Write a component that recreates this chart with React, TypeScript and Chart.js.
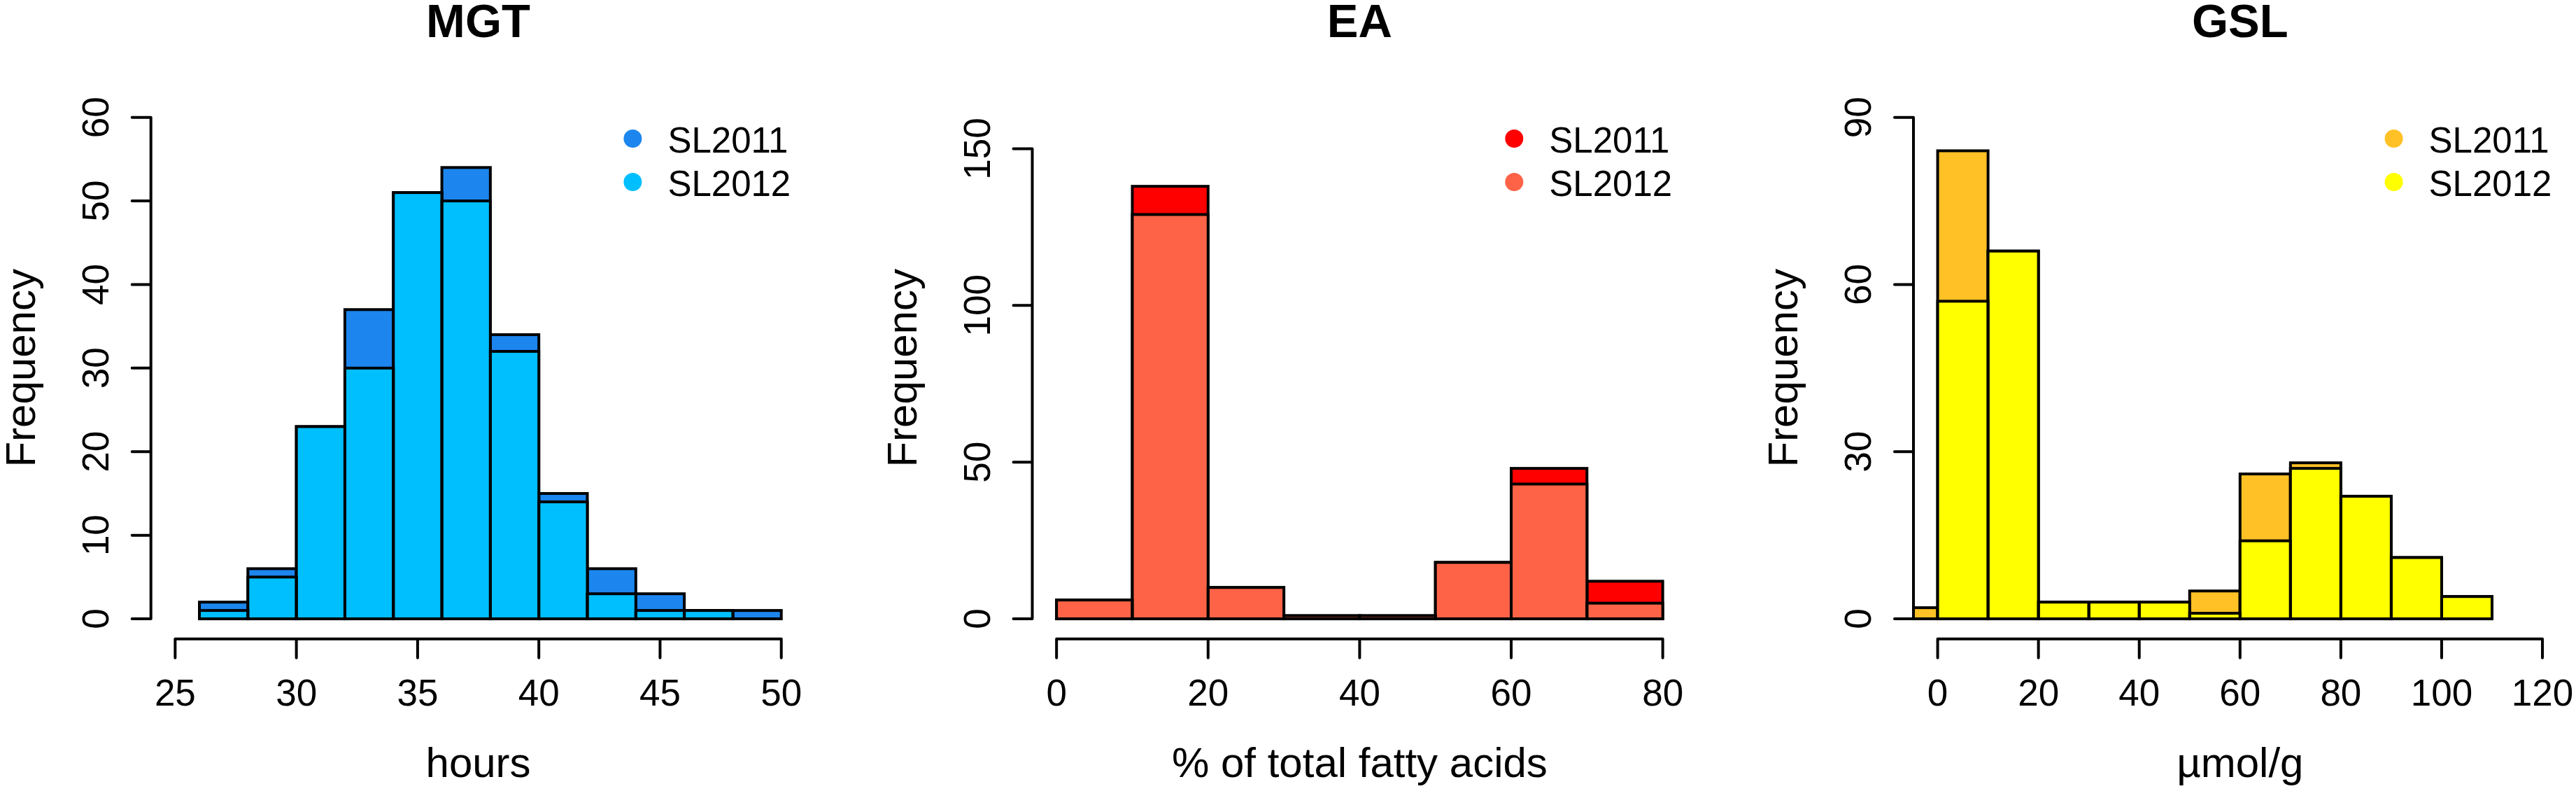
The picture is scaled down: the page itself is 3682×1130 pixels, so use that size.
import { useEffect, useRef } from "react";
import { Chart, registerables } from "chart.js";

Chart.register(...registerables);

// ---- data ----
const seriesNames = ["SL2011", "SL2012"];

const mgtBreaks = [26, 28, 30, 32, 34, 36, 38, 40, 42, 44, 46, 48, 50];
const mgtSL2011 = [2, 6, 23, 37, 51, 54, 34, 15, 6, 3, 1, 1];
const mgtSL2012 = [1, 5, 23, 30, 51, 50, 32, 14, 3, 1, 1, 0];
const mgtXTicks = [25, 30, 35, 40, 45, 50];
const mgtYTicks = [0, 10, 20, 30, 40, 50, 60];

const eaBreaks = [0, 10, 20, 30, 40, 50, 60, 70, 80];
const eaSL2011 = [6, 138, 10, 1, 1, 18, 48, 12];
const eaSL2012 = [6, 129, 10, 1, 1, 18, 43, 5];
const eaXTicks = [0, 20, 40, 60, 80];
const eaYTicks = [0, 50, 100, 150];

const gslBreaks = [-10, 0, 10, 20, 30, 40, 50, 60, 70, 80, 90, 100, 110];
const gslSL2011 = [2, 84, 66, 3, 3, 3, 5, 26, 28, 22, 11, 4];
const gslSL2012 = [0, 57, 66, 3, 3, 3, 1, 14, 27, 22, 11, 4];
const gslXTicks = [0, 20, 40, 60, 80, 100, 120];
const gslYTicks = [0, 30, 60, 90];

const FONT = '"Liberation Sans", Arial, Helvetica, sans-serif';
const PAGE_H = 1130;
const TOP_PAD = 139;
const BOTTOM_PAD = 217.3;
const LW = 4;

interface PanelSpec {
    title: string;
    xLabel: string;
    breaks: number[];
    back: number[];
    front: number[];
    xTicks: number[];
    yTicks: number[];
    xlim: [number, number];
    ylim: [number, number];
    colors: [string, string];
    left: number;
    width: number;
    padLeft: number;
    padRight: number;
}

const panels: PanelSpec[] = [
    {
        title: "MGT",
        xLabel: "hours",
        breaks: mgtBreaks,
        back: mgtSL2011,
        front: mgtSL2012,
        xTicks: mgtXTicks,
        yTicks: mgtYTicks,
        xlim: [25, 50],
        ylim: [0, 60],
        colors: ["#1C86EE", "#00BFFF"],
        left: 0,
        width: 1227,
        padLeft: 215.7,
        padRight: 75.6,
    },
    {
        title: "EA",
        xLabel: "% of total fatty acids",
        breaks: eaBreaks,
        back: eaSL2011,
        front: eaSL2012,
        xTicks: eaXTicks,
        yTicks: eaYTicks,
        xlim: [0, 80],
        ylim: [0, 160],
        colors: ["#FF0000", "#FF6347"],
        left: 1227,
        width: 1228,
        padLeft: 248.5,
        padRight: 43.7,
    },
    {
        title: "GSL",
        xLabel: "µmol/g",
        breaks: gslBreaks,
        back: gslSL2011,
        front: gslSL2012,
        xTicks: gslXTicks,
        yTicks: gslYTicks,
        xlim: [0, 120],
        ylim: [0, 90],
        colors: ["#FFC125", "#FFFF00"],
        left: 2455,
        width: 1227,
        padLeft: 280,
        padRight: 13.4,
    },
];

// R-style extended limits (4% each side)
const extend = (lim: [number, number]) => {
    const d = (lim[1] - lim[0]) * 0.04;
    return { min: lim[0] - d, max: lim[1] + d };
};

function HistPanel({ spec }: { spec: PanelSpec }) {
    const canvasRef = useRef<HTMLCanvasElement>(null);
    const chartRef = useRef<Chart | null>(null);

    useEffect(() => {
        if (!canvasRef.current) return;
        if (chartRef.current) chartRef.current.destroy();

        const centers = spec.breaks.slice(0, -1).map((b, i) => (b + spec.breaks[i + 1]) / 2);
        const xr = extend(spec.xlim);
        const yr = extend(spec.ylim);

        // bar outlines drawn centred on the edges, like R's rect()
        const outlinePlugin = {
            id: "outline",
            afterDatasetDraw(chart: any, args: any) {
                const { ctx, chartArea } = chart;
                ctx.save();
                ctx.beginPath();
                ctx.rect(chartArea.left, chartArea.top, chartArea.right - chartArea.left, chartArea.bottom - chartArea.top);
                ctx.clip();
                ctx.strokeStyle = "#000";
                ctx.lineWidth = LW;
                ctx.lineJoin = "miter";
                args.meta.data.forEach((el: any) => {
                    const { x, y, base, width } = el.getProps(["x", "y", "base", "width"], true);
                    ctx.strokeRect(x - width / 2, Math.min(y, base), width, Math.abs(base - y));
                });
                ctx.restore();
            },
        };

        const axesPlugin = {
            id: "rAxes",
            afterDraw(chart: any) {
                const { ctx, chartArea, scales } = chart;
                const xs = scales.x;
                const ys = scales.y;
                const cx = (chartArea.left + chartArea.right) / 2;
                const cy = (chartArea.top + chartArea.bottom) / 2;
                ctx.save();
                ctx.strokeStyle = "#000";
                ctx.fillStyle = "#000";
                ctx.lineWidth = LW;
                ctx.lineCap = "round";

                // x axis
                const xb = chartArea.bottom;
                ctx.beginPath();
                ctx.moveTo(xs.getPixelForValue(spec.xTicks[0]), xb);
                ctx.lineTo(xs.getPixelForValue(spec.xTicks[spec.xTicks.length - 1]), xb);
                spec.xTicks.forEach((t) => {
                    const px = xs.getPixelForValue(t);
                    ctx.moveTo(px, xb);
                    ctx.lineTo(px, xb + 27);
                });
                ctx.stroke();
                ctx.font = `53px ${FONT}`;
                ctx.textAlign = "center";
                ctx.textBaseline = "alphabetic";
                spec.xTicks.forEach((t) => {
                    ctx.fillText(String(t), xs.getPixelForValue(t), xb + 95);
                });

                // y axis
                const yl = chartArea.left;
                ctx.beginPath();
                ctx.moveTo(yl, ys.getPixelForValue(spec.yTicks[0]));
                ctx.lineTo(yl, ys.getPixelForValue(spec.yTicks[spec.yTicks.length - 1]));
                spec.yTicks.forEach((t) => {
                    const py = ys.getPixelForValue(t);
                    ctx.moveTo(yl, py);
                    ctx.lineTo(yl - 27, py);
                });
                ctx.stroke();
                spec.yTicks.forEach((t) => {
                    ctx.save();
                    ctx.translate(yl - 61, ys.getPixelForValue(t));
                    ctx.rotate(-Math.PI / 2);
                    ctx.fillText(String(t), 0, 0);
                    ctx.restore();
                });

                // axis titles
                ctx.font = `60px ${FONT}`;
                ctx.fillText(spec.xLabel, cx, 1110);
                ctx.save();
                ctx.translate(yl - 165.7, cy);
                ctx.rotate(-Math.PI / 2);
                ctx.fillText("Frequency", 0, 0);
                ctx.restore();

                // main title
                ctx.font = `bold 67px ${FONT}`;
                ctx.fillText(spec.title, cx, 53);

                // legend (topright, no box)
                const dotX = chartArea.right - 247;
                const rows = [198, 260];
                ctx.font = `51px ${FONT}`;
                ctx.textAlign = "left";
                seriesNames.forEach((name, i) => {
                    ctx.fillStyle = spec.colors[i];
                    ctx.beginPath();
                    ctx.arc(dotX, rows[i], 13, 0, Math.PI * 2);
                    ctx.fill();
                    ctx.fillStyle = "#000";
                    ctx.fillText(name, dotX + 50, rows[i] + 20);
                });
                ctx.restore();
            },
        };

        chartRef.current = new Chart(canvasRef.current, {
            type: "bar",
            data: {
                datasets: [
                    {
                        label: seriesNames[0],
                        data: centers.map((c, i) => ({ x: c, y: spec.back[i] })),
                        backgroundColor: spec.colors[0],
                        borderWidth: 0,
                        grouped: false,
                        order: 2,
                        barPercentage: 1,
                        categoryPercentage: 1,
                    },
                    {
                        label: seriesNames[1],
                        data: centers.map((c, i) => ({ x: c, y: spec.front[i] })),
                        backgroundColor: spec.colors[1],
                        borderWidth: 0,
                        grouped: false,
                        order: 1,
                        barPercentage: 1,
                        categoryPercentage: 1,
                    },
                ],
            },
            options: {
                animation: false,
                responsive: false,
                devicePixelRatio: 1,
                layout: {
                    padding: { left: spec.padLeft, right: spec.padRight, top: TOP_PAD, bottom: BOTTOM_PAD },
                },
                plugins: {
                    legend: { display: false },
                    tooltip: { enabled: false },
                    title: { display: false },
                },
                scales: {
                    // hidden scale; coarse ticks so they don't shrink the bar ruler
                    x: {
                        type: "linear",
                        min: xr.min,
                        max: xr.max,
                        display: false,
                        offset: false,
                        ticks: { includeBounds: false, stepSize: 1000 },
                    },
                    y: { type: "linear", min: yr.min, max: yr.max, display: false },
                },
            } as any,
            plugins: [outlinePlugin, axesPlugin],
        });

        return () => {
            chartRef.current?.destroy();
            chartRef.current = null;
        };
    }, [spec]);

    return (
        <canvas
            ref={canvasRef}
            width={spec.width}
            height={PAGE_H}
            style={{ position: "absolute", left: spec.left, top: 0, width: spec.width, height: PAGE_H }}
        />
    );
}

export default function App() {
    return (
        <div
            style={{
                position: "fixed",
                left: 0,
                top: 0,
                width: 3682,
                height: PAGE_H,
                background: "#fff",
                overflow: "hidden",
            }}
        >
            {panels.map((p) => (
                <HistPanel key={p.title} spec={p} />
            ))}
        </div>
    );
}
